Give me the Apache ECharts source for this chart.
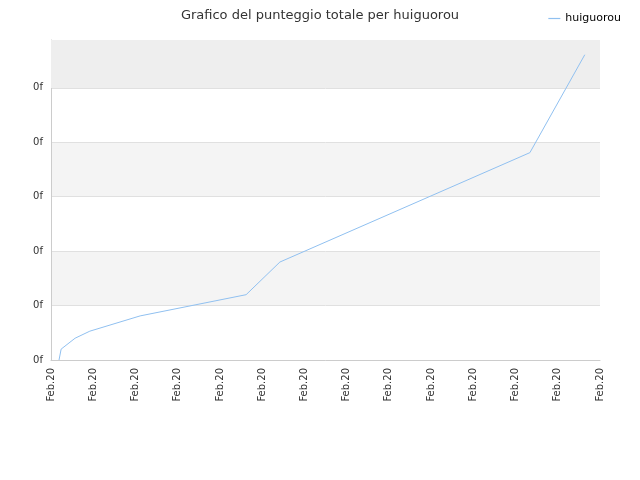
<!DOCTYPE html>
<html><head><meta charset="utf-8">
<script src="https://cdn.jsdelivr.net/npm/echarts@6/dist/echarts.min.js"></script>
</head><body style="margin:0">
<div id="c" style="width:640px;height:480px"></div>
<script>
const xTickLabels = Array(14).fill('Feb.20');
const xValues = [0.19, 0.24, 0.57, 0.92, 2.11, 4.62, 5.42, 11.34, 12.64];
const yValues = [0, 0.2, 0.4, 0.53, 0.81, 1.2, 1.8, 3.81, 5.61];
const seriesName = 'huiguorou';
const chart = echarts.init(document.getElementById('c'));
chart.setOption({
  animation: false,
  title: {text: 'Grafico del punteggio totale per huiguorou', left: 'center', top: 4,
    textStyle: {fontSize: 13, fontWeight: 'normal', color: '#333', fontFamily: 'DejaVu Sans'}},
  legend: {right: 14, top: 8, icon: 'path://M0,0H10V1H0Z', itemWidth: 12, itemHeight: 2,
    textStyle: {fontSize: 11, color: '#000', fontFamily: 'DejaVu Sans'}, data: [seriesName]},
  grid: {left: 51, right: 40, top: 40, bottom: 120},
  xAxis: {type: 'value', min: 0, max: 13, interval: 1,
    axisLine: {lineStyle: {color: '#ccc'}}, axisTick: {show: false}, splitLine: {show: false},
    axisLabel: {rotate: 90, fontSize: 10, color: '#333', fontFamily: 'DejaVu Sans',
      formatter: (v) => xTickLabels[Math.round(v)]}},
  yAxis: {type: 'value', min: 0, max: 5.88, interval: 1,
    axisLine: {show: true, lineStyle: {color: '#ccc'}}, axisTick: {show: false},
    splitLine: {lineStyle: {color: '#e0e0e0'}},
    splitArea: {show: true, areaStyle: {color: ['#ffffff', '#f4f4f4']}},
    axisLabel: {showMaxLabel: false, fontSize: 10, color: '#333', fontFamily: 'DejaVu Sans', formatter: () => '0f'}},
  series: [{name: seriesName, type: 'line', symbol: 'none', color: '#90c0f0',
    lineStyle: {width: 1, color: '#90c0f0'},
    data: xValues.map((x, i) => [x, yValues[i]]),
    markArea: {silent: true, itemStyle: {color: '#eeeeee'}, data: [[{yAxis: 5}, {yAxis: 5.88}]]}
  }]
});
</script></body></html>
